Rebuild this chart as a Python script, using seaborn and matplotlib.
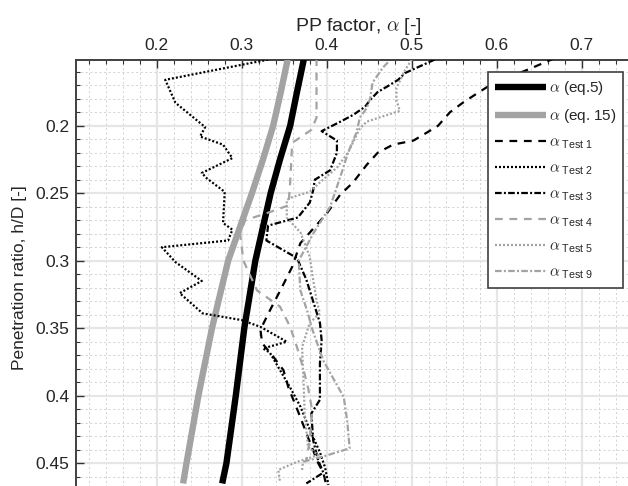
import numpy as np
import pandas as pd
import matplotlib
matplotlib.use("Agg")
import matplotlib.pyplot as plt
from matplotlib.ticker import MultipleLocator, FuncFormatter
import seaborn as sns

# depth (h/D) and PP factor values
h_eq = [0.151, 0.175, 0.20, 0.225, 0.25, 0.275, 0.30, 0.35, 0.40, 0.45, 0.465]
alpha_eq5 = [0.373, 0.365, 0.357, 0.345, 0.334, 0.325, 0.316, 0.303, 0.293, 0.282, 0.277]
alpha_eq15 = [0.354, 0.346, 0.337, 0.325, 0.312, 0.298, 0.284, 0.265, 0.249, 0.235, 0.231]

h_t1 = [0.150, 0.157, 0.170, 0.176, 0.183, 0.190, 0.200, 0.205, 0.211, 0.214, 0.220, 0.229,
        0.242, 0.251, 0.265, 0.287, 0.305, 0.320, 0.337, 0.351, 0.361, 0.371, 0.381, 0.394,
        0.416, 0.431, 0.450, 0.457, 0.465]
a_t1 = [0.668, 0.642, 0.592, 0.577, 0.560, 0.545, 0.531, 0.518, 0.502, 0.478, 0.460, 0.447,
        0.431, 0.416, 0.400, 0.369, 0.359, 0.347, 0.333, 0.322, 0.324, 0.337, 0.349, 0.355,
        0.369, 0.378, 0.390, 0.396, 0.399]

h_t2 = [0.151, 0.166, 0.183, 0.201, 0.208, 0.214, 0.224, 0.235, 0.239, 0.249, 0.272, 0.277,
        0.285, 0.290, 0.301, 0.315, 0.324, 0.339, 0.344, 0.349, 0.360, 0.365, 0.368, 0.381,
        0.394, 0.408, 0.425, 0.442, 0.453, 0.466]
a_t2 = [0.331, 0.210, 0.222, 0.257, 0.251, 0.278, 0.289, 0.253, 0.259, 0.280, 0.278, 0.289,
        0.284, 0.206, 0.222, 0.253, 0.227, 0.254, 0.300, 0.322, 0.353, 0.325, 0.333, 0.345,
        0.357, 0.369, 0.380, 0.392, 0.398, 0.402]

h_t3 = [0.151, 0.157, 0.161, 0.166, 0.171, 0.175, 0.181, 0.186, 0.192, 0.197, 0.204, 0.211,
        0.220, 0.233, 0.240, 0.248, 0.257, 0.268, 0.274, 0.285, 0.298, 0.314, 0.346, 0.359,
        0.376, 0.403, 0.413, 0.433, 0.448, 0.457, 0.465]
a_t3 = [0.527, 0.506, 0.492, 0.484, 0.471, 0.460, 0.451, 0.445, 0.431, 0.416, 0.394, 0.412,
        0.412, 0.404, 0.386, 0.384, 0.380, 0.366, 0.331, 0.329, 0.365, 0.376, 0.392, 0.394,
        0.392, 0.392, 0.382, 0.384, 0.390, 0.396, 0.376]

h_t4 = [0.150, 0.194, 0.203, 0.212, 0.217, 0.242, 0.259, 0.264, 0.270, 0.280, 0.300, 0.322,
        0.334, 0.349, 0.364, 0.379, 0.394, 0.411, 0.433, 0.448]
a_t4 = [0.388, 0.388, 0.382, 0.361, 0.359, 0.357, 0.355, 0.333, 0.304, 0.298, 0.302, 0.318,
        0.345, 0.357, 0.365, 0.372, 0.378, 0.383, 0.380, 0.376]

h_t5 = [0.151, 0.159, 0.172, 0.181, 0.189, 0.192, 0.197, 0.202, 0.220, 0.231, 0.242, 0.249,
        0.253, 0.255, 0.268, 0.279, 0.297, 0.314, 0.329, 0.339, 0.346, 0.364, 0.394, 0.413,
        0.438, 0.444, 0.449, 0.455, 0.464]
a_t5 = [0.500, 0.492, 0.482, 0.482, 0.486, 0.471, 0.447, 0.439, 0.425, 0.412, 0.392, 0.380,
        0.359, 0.353, 0.353, 0.369, 0.380, 0.384, 0.388, 0.392, 0.380, 0.371, 0.373, 0.374,
        0.378, 0.390, 0.365, 0.343, 0.345]

h_t9 = [0.153, 0.157, 0.168, 0.180, 0.187, 0.194, 0.205, 0.220, 0.234, 0.249, 0.260, 0.280,
        0.300, 0.322, 0.339, 0.349, 0.374, 0.401, 0.418, 0.439, 0.445, 0.449, 0.455]
a_t9 = [0.472, 0.466, 0.454, 0.451, 0.447, 0.439, 0.435, 0.425, 0.418, 0.410, 0.404, 0.384,
        0.367, 0.369, 0.378, 0.382, 0.396, 0.420, 0.424, 0.427, 0.396, 0.372, 0.371]

black = "#000000"
grey = "#a3a3a3"

sns.set_theme(style="white")
plt.rcParams["font.family"] = ["Liberation Sans", "DejaVu Sans"]
plt.rcParams["mathtext.fontset"] = "custom"
plt.rcParams["mathtext.it"] = "cmmi10"
plt.rcParams["mathtext.rm"] = "Liberation Sans"
plt.rcParams["mathtext.sf"] = "Liberation Sans"

fig = plt.figure(figsize=(6.28, 4.86), dpi=100)
ax = fig.add_axes([76 / 628, -10 / 486, 564 / 628, 436 / 486])

curves = [
    (alpha_eq5, h_eq, black, 4.6, "-", r"$\alpha$ (eq.5)"),
    (alpha_eq15, h_eq, grey, 4.6, "-", r"$\alpha$ (eq. 15)"),
    (a_t1, h_t1, black, 1.6, (0, (3.5, 3.0)), r"$\alpha_{\ \mathrm{Test\ 1}}$"),
    (a_t2, h_t2, black, 1.6, (0, (0.9, 0.9)), r"$\alpha_{\ \mathrm{Test\ 2}}$"),
    (a_t3, h_t3, black, 1.6, (0, (3.0, 1.0, 0.9, 1.0)), r"$\alpha_{\ \mathrm{Test\ 3}}$"),
    (a_t4, h_t4, grey, 1.6, (0, (3.5, 3.0)), r"$\alpha_{\ \mathrm{Test\ 4}}$"),
    (a_t5, h_t5, grey, 1.6, (0, (0.9, 0.9)), r"$\alpha_{\ \mathrm{Test\ 5}}$"),
    (a_t9, h_t9, grey, 1.6, (0, (3.0, 1.0, 0.9, 1.0)), r"$\alpha_{\ \mathrm{Test\ 9}}$"),
]

for xs, ys, col, lw, ls, lab in curves:
    sns.lineplot(x=xs, y=ys, sort=False, estimator=None, color=col, linewidth=lw,
                 linestyle=ls, label=lab, ax=ax, solid_capstyle="butt", zorder=3)

ax.set_xlim(0.105, 0.7686)
ax.set_ylim(0.4743, 0.1513)

ax.xaxis.set_major_locator(MultipleLocator(0.1))
ax.xaxis.set_minor_locator(MultipleLocator(0.02))
ax.yaxis.set_major_locator(MultipleLocator(0.05))
ax.yaxis.set_minor_locator(MultipleLocator(0.01))
fmt = FuncFormatter(lambda v, p: "%g" % round(v, 3))
ax.xaxis.set_major_formatter(fmt)
ax.yaxis.set_major_formatter(fmt)

ax.xaxis.tick_top()
ax.xaxis.set_label_position("top")
ax.tick_params(which="both", direction="in", top=True, left=True, right=True, bottom=True,
               color="#333333")
ax.tick_params(which="major", length=6, width=1.0, labelsize=12.5, pad=5)
ax.tick_params(which="minor", length=3, width=0.8)
ax.tick_params(axis="x", which="both", labelbottom=False, labeltop=True)

ax.grid(which="major", color="#e6e6e6", linewidth=1.6, linestyle="-")
ax.grid(which="minor", color="#cccccc", linewidth=0.6, linestyle=(0, (2.5, 3)))
ax.set_axisbelow(True)

for s in ax.spines.values():
    s.set_color("#404040")
    s.set_linewidth(1.4)

ax.set_xlabel(r"PP factor, $\alpha$ [-]", fontsize=14, labelpad=5)
ax.set_ylabel("Penetration ratio, h/D [-]", fontsize=12.5, labelpad=6)

leg = ax.legend(loc="upper right", bbox_to_anchor=(0.970, 0.9725),
                fontsize=11, handlelength=3.3, handletextpad=0.2,
                labelspacing=0.68, borderpad=0.45, borderaxespad=0.0,
                fancybox=False, framealpha=1, edgecolor="#404040")
leg.get_frame().set_linewidth(1.2)

fig.savefig("out.png", dpi=100)
